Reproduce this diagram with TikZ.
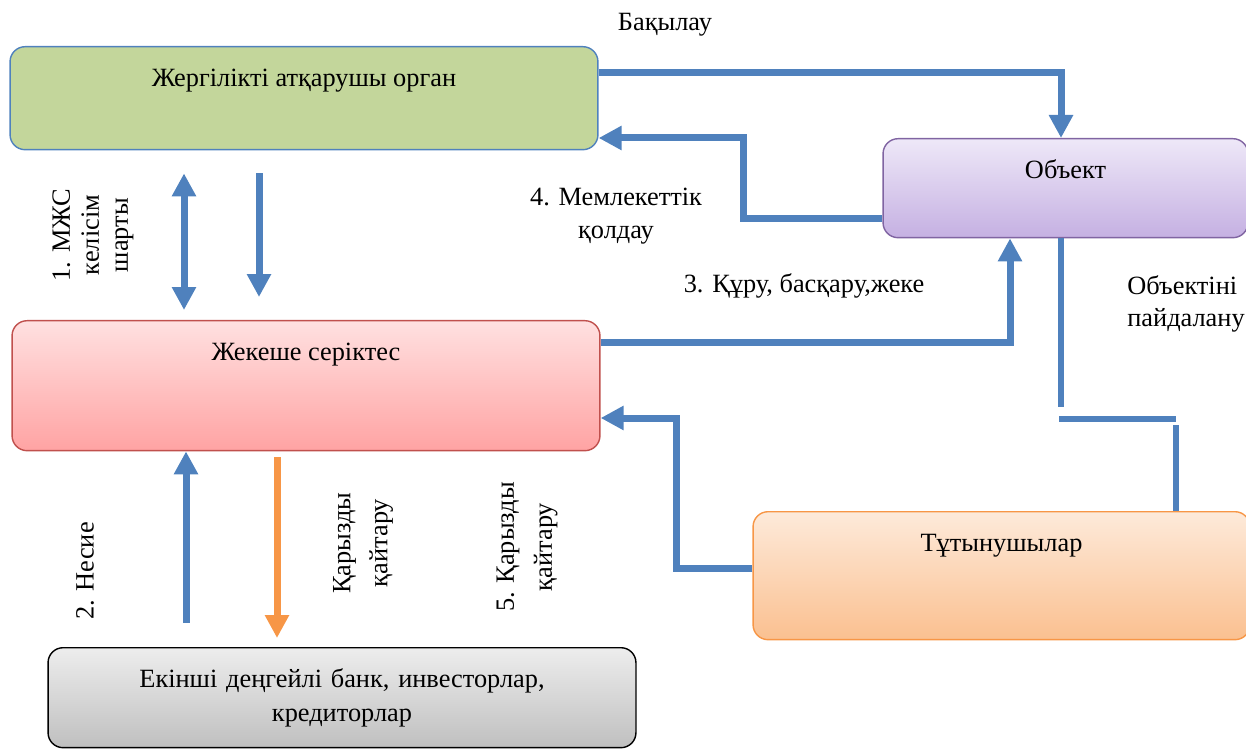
\documentclass[tikz,border=0pt]{standalone}
\usepackage{fontspec}
\setmainfont{Liberation Serif}
\usetikzlibrary{arrows.meta}
\definecolor{arrblue}{HTML}{4F81BD}
\definecolor{arrorange}{HTML}{F79646}
\definecolor{greenfill}{HTML}{C3D69B}
\definecolor{purpleline}{HTML}{8064A2}
\definecolor{purpletop}{HTML}{EEE8F8}
\definecolor{purplebot}{HTML}{C5B0E2}
\definecolor{redline}{HTML}{C0504D}
\tikzset{
    x=0.02cm, y=-0.02cm, % one unit is one pixel of the original, y runs down
    every node/.style={font=\fontsize{15}{19}\selectfont},
    box/.style={draw, rounded corners=0.3cm, line width=0.8pt, anchor=north,
        inner xsep=0pt, inner ysep=0.4cm, text height=0.4cm}, % rounded block
    lbl/.style={inner sep=0pt}, % free text
    vlbl/.style={lbl, rotate=90, align=center},
}
\tikzstyle{arr} = [line width=0.14cm, draw=arrblue, -{Triangle[width=0.46cm,length=0.46cm]}]
\tikzstyle{link} = [line width=0.12cm, draw=arrblue]

\begin{document}
\begin{tikzpicture}
    \useasboundingbox (0,0) rectangle (1246,749);
    % Blocks
    \node[box, draw=arrblue, fill=greenfill, minimum width=11.76cm, text depth=0.86cm] (zhab) at (304,46) {Жергілікті атқарушы орган};
    \node[box, draw=purpleline, top color=purpletop, bottom color=purplebot, minimum width=7.3cm, text depth=0.78cm] (obj) at (1065.5,138) {Объект};
    \node[box, draw=redline, top color=red!12, bottom color=red!36, minimum width=11.76cm, text depth=1.4cm] (zheke) at (306,320) {Жекеше серіктес};
    \node[box, draw=arrorange, top color=arrorange!20, bottom color=arrorange!60, minimum width=9.94cm, text depth=1.36cm] (tutyn) at (1001.5,511) {Тұтынушылар};
    \node[box, draw=black, top color=black!7, bottom color=black!25, minimum width=11.76cm, text width=11.76cm, align=center, text depth=0.8cm, font=\fontsize{15}{0.68cm}\selectfont] (bank) at (342,647) {Екінші деңгейлі банк, инвесторлар,\\кредиторлар};

    % Labels
    \node[lbl, anchor=base] (bak) at (665,31) {Бақылау};
    \node[lbl, align=center, font=\fontsize{15}{0.66cm}\selectfont] (mem) at (616,216) {4. Мемлекеттік\\қолдау};
    \node[lbl, anchor=base] (kuru) at (804,293) {3. Құру, басқару,жеке};
    \node[lbl, align=left, anchor=west, font=\fontsize{15}{0.64cm}\selectfont] (paid) at (1127,304) {Объектіні\\пайдалану};
    \node[vlbl, font=\fontsize{15}{0.58cm}\selectfont] (mzhs) at (93,235) {1. МЖС\\келісім\\шарты};
    \node[vlbl] (nesie) at (85,571) {2. Несие};
    \node[vlbl, font=\fontsize{15}{0.74cm}\selectfont] (karyz) at (363,543) {Қарызды\\қайтару};
    \node[vlbl, font=\fontsize{15}{0.76cm}\selectfont] (karyzv) at (527,547) {5. Қарызды\\қайтару};

    % Connectors
    \draw[arr] (zhab.east |- 0,73) -| (obj.north -| 1061,0);
    \draw[arr] (obj.west |- 0,219) -| (743,138) -- (zhab.east |- 0,138);
    \draw[arr] (zheke.east |- 0,343) -| (obj.south -| 1010,0);
    \draw[link] (obj.south -| 1061,0) -- (1061,407)
        (1059,419) -- (1176,419)
        (1176,425) -- (tutyn.north -| 1176,0);
    \draw[arr] (tutyn.west |- 0,568) -| (676,418) -- (zheke.east |- 0,418);
    \draw[arr, {Triangle[width=0.46cm,length=0.46cm]}-{Triangle[width=0.46cm,length=0.46cm]}, shorten <=0.46cm, shorten >=0.2cm] (zhab.south -| 184,0) -- (zheke.north -| 184,0);
    \draw[arr, shorten <=0.46cm, shorten >=0.46cm] (zhab.south -| 259,0) -- (zheke.north -| 259,0);
    \draw[arr, shorten <=0.48cm] (bank.north -| 186,0) -- (zheke.south -| 186,0);
    \draw[arr, draw=arrorange, shorten <=0.12cm, shorten >=0.18cm] (zheke.south -| 277,0) -- (bank.north -| 277,0);
\end{tikzpicture}
\end{document}
